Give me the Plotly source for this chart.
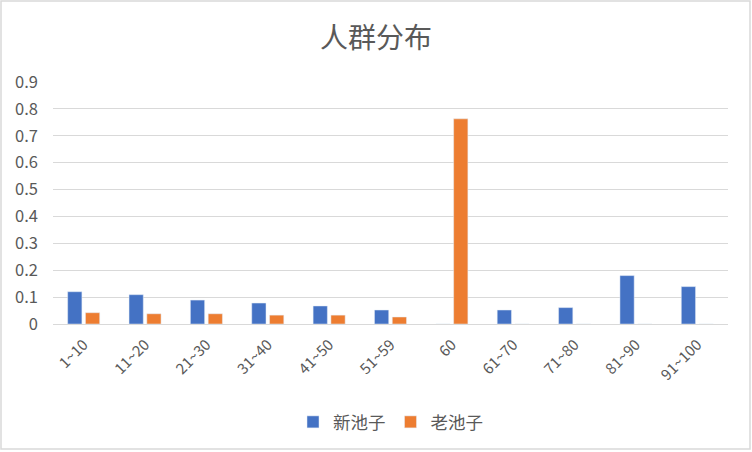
import plotly.graph_objects as go

categories = ["1~10", "11~20", "21~30", "31~40", "41~50", "51~59", "60",
              "61~70", "71~80", "81~90", "91~100"]
new_pool = [0.12, 0.109, 0.089, 0.078, 0.067, 0.052, 0, 0.052, 0.061, 0.18, 0.139]
old_pool = [0.042, 0.038, 0.038, 0.033, 0.033, 0.026, 0.763, 0, 0, 0, 0]
series_names = ["新池子", "老池子"]
y_ticks = [0, 0.1, 0.2, 0.3, 0.4, 0.5, 0.6, 0.7, 0.8, 0.9]
y_tick_labels = ["0", "0.1", "0.2", "0.3", "0.4", "0.5", "0.6", "0.7", "0.8", "0.9"]

W, H = 752, 452
L, R, T, B = 53, 24, 82, 128
pw, ph = W - L - R, H - T - B

font = "Noto Sans CJK SC, Noto Sans, sans-serif"

fig = go.Figure()
fig.add_trace(go.Bar(x=categories, y=new_pool, name=series_names[0], marker_color="#4472C4"))
fig.add_trace(go.Bar(x=categories, y=old_pool, name=series_names[1], marker_color="#ED7D31"))

def px2x(p):
    return (p - L) / pw

def px2y(p):
    return 1 - (p - T) / ph

fig.add_shape(type="rect", xref="paper", yref="paper",
              x0=px2x(1), x1=px2x(750), y0=px2y(449), y1=px2y(1),
              line=dict(color="#D9D9D9", width=1.5), fillcolor="rgba(0,0,0,0)", layer="below")

fig.update_layout(
    width=W, height=H,
    margin=dict(l=L, r=R, t=T, b=B, autoexpand=False),
    paper_bgcolor="white", plot_bgcolor="white",
    font=dict(family=font, color="#595959", size=15),
    title=dict(text="人群分布", x=0.5, xanchor="center", y=1 - 38 / H, yanchor="middle",
               font=dict(size=28, color="#595959", family=font)),
    barmode="group", bargap=0.42, bargroupgap=0.2,
    showlegend=True,
    legend=dict(orientation="h", x=0.5, xanchor="center", y=px2y(422), yanchor="middle",
                font=dict(size=17.5, color="#595959"), itemwidth=30),
    xaxis=dict(tickangle=-45, showgrid=False, showline=True, linecolor="#D9D9D9",
               linewidth=1, ticks="", automargin=False, ticklabelstandoff=5,
               tickfont=dict(size=15, color="#595959")),
    yaxis=dict(range=[0, 0.9], tickvals=y_ticks, ticktext=y_tick_labels,
               showgrid=True, gridcolor="#D9D9D9", gridwidth=1, zeroline=False,
               showline=False, ticks="", ticklabelstandoff=14, automargin=False,
               tickfont=dict(size=16.5, color="#595959")),
)

fig.write_html("out.html", config={"displayModeBar": False},
               post_script="document.body.style.margin='0';document.body.style.overflow='hidden';")
